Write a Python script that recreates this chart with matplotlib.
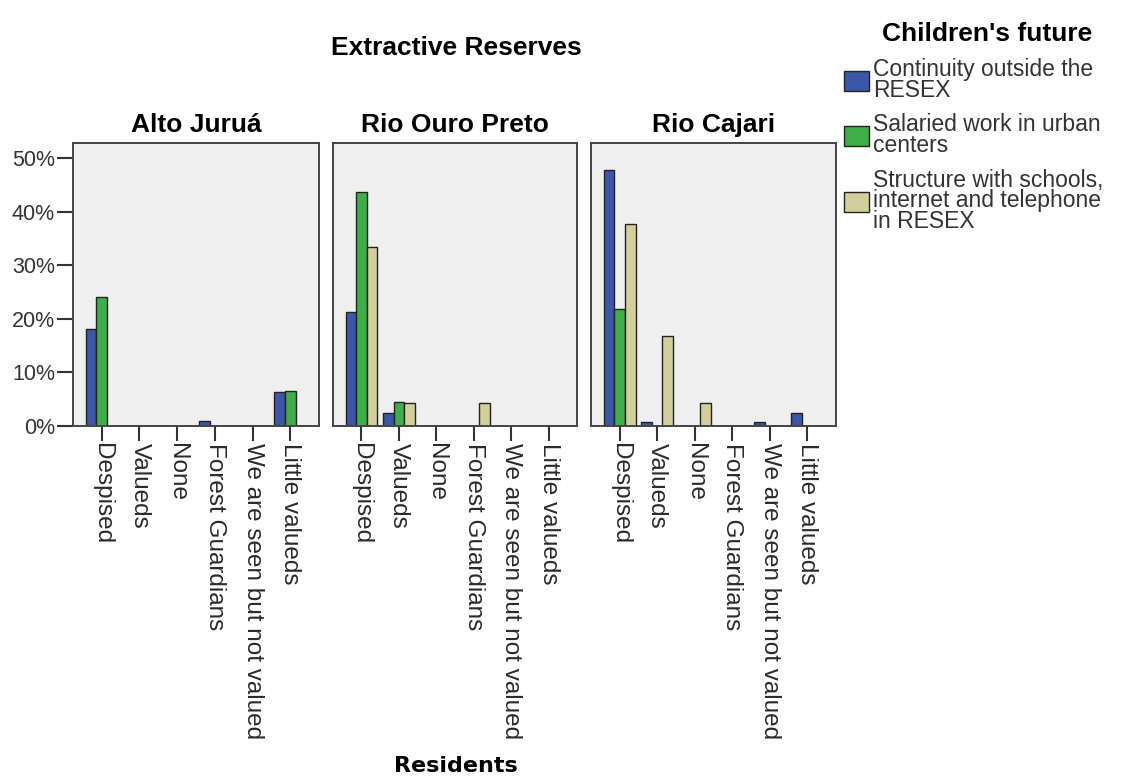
import numpy as np
import matplotlib.pyplot as plt
from matplotlib.ticker import PercentFormatter
from matplotlib.transforms import ScaledTranslation

plt.rcParams['font.family'] = ['Liberation Sans', 'DejaVu Sans']

# data (percent of residents)
reserves = ['Alto Juruá', 'Rio Ouro Preto', 'Rio Cajari']
residents = ['Despised', 'Valueds', 'None', 'Forest Guardians',
             'We are seen but not valued', 'Little valueds']
series_names = ['Continuity outside the\nRESEX',
                'Salaried work in urban\ncenters',
                'Structure with schools,\ninternet and telephone\nin RESEX']

continuity = [[18.1, 0, 0, 0.9, 0, 6.3],
              [21.2, 2.5, 0, 0, 0, 0],
              [47.8, 0.8, 0, 0, 0.8, 2.5]]
salaried = [[24.1, 0, 0, 0, 0, 6.6],
            [43.6, 4.4, 0, 0, 0, 0],
            [21.8, 0, 0, 0, 0, 0]]
structure = [[0, 0, 0, 0, 0, 0],
             [33.4, 4.2, 0, 4.2, 0, 0],
             [37.6, 16.8, 4.2, 0, 0, 0]]

colors = ['#3d57a8', '#3fae4a', '#d3cf9b']

W, H = 1132, 776
fig = plt.figure(figsize=(W / 100, H / 100), dpi=100)

# panel boxes in pixels: left, right
panels_px = [(73, 319), (333, 577), (591, 836)]
top_px, bot_px = 143, 426

x = np.arange(len(residents))
bw = 0.283
shift = ScaledTranslation(-0.09, 0, fig.dpi_scale_trans)
axes = []
for i, (l, r) in enumerate(panels_px):
    ax = fig.add_axes([l / W, 1 - bot_px / H, (r - l) / W, (bot_px - top_px) / H])
    ax.set_facecolor('#efefef')
    for j, vals in enumerate([continuity[i], salaried[i], structure[i]]):
        ax.bar(x + (j - 1) * bw, vals, bw, color=colors[j], edgecolor='#222222',
               linewidth=1.0, label=series_names[j], zorder=2)
    ax.set_xlim(-0.76, 5.76)
    ax.set_ylim(0, 52.8)
    ax.set_xticks(x)
    ax.set_xticklabels(residents, rotation=-90, fontsize=17.5, color='#2a2a2a')
    for lab in ax.get_xticklabels():
        lab.set_transform(lab.get_transform() + shift)
    ax.tick_params(axis='x', length=11, width=1.5, pad=1, color='#333333')
    for s in ax.spines.values():
        s.set_color('#444444')
        s.set_linewidth(1.4)
    ax.set_title(reserves[i], fontsize=19, fontweight='bold', pad=8)
    if i == 0:
        ax.set_yticks([0, 10, 20, 30, 40, 50])
        ax.yaxis.set_major_formatter(PercentFormatter(decimals=0))
        ax.tick_params(axis='y', length=11.5, width=1.5, pad=1.5,
                       labelsize=15.5, color='#333333', labelcolor='#333333')
    else:
        ax.set_yticks([])
    axes.append(ax)

fig.text(456 / W, 1 - 55 / H, 'Extractive Reserves', fontsize=19,
         fontweight='bold', ha='center', va='baseline')
fig.text(456 / W, 1 - 772 / H, 'Residents', fontsize=16, fontweight='bold',
         family='DejaVu Sans', ha='center', va='baseline')
fig.text(987 / W, 1 - 41 / H, "Children's future", fontsize=19,
         fontweight='bold', ha='center', va='baseline')

handles, labels = axes[0].get_legend_handles_labels()
leg = fig.legend(handles, labels, loc='upper left',
                 bbox_to_anchor=(844 / W, 1 - 58 / H), frameon=False,
                 fontsize=16.5, borderpad=0, borderaxespad=0,
                 handlelength=1.1, handleheight=0.96, handletextpad=0.17,
                 labelspacing=0.5)
for t in leg.get_texts():
    t.set_linespacing(0.88)
    t.set_color('#333333')

fig.savefig('out.png', dpi=100)
